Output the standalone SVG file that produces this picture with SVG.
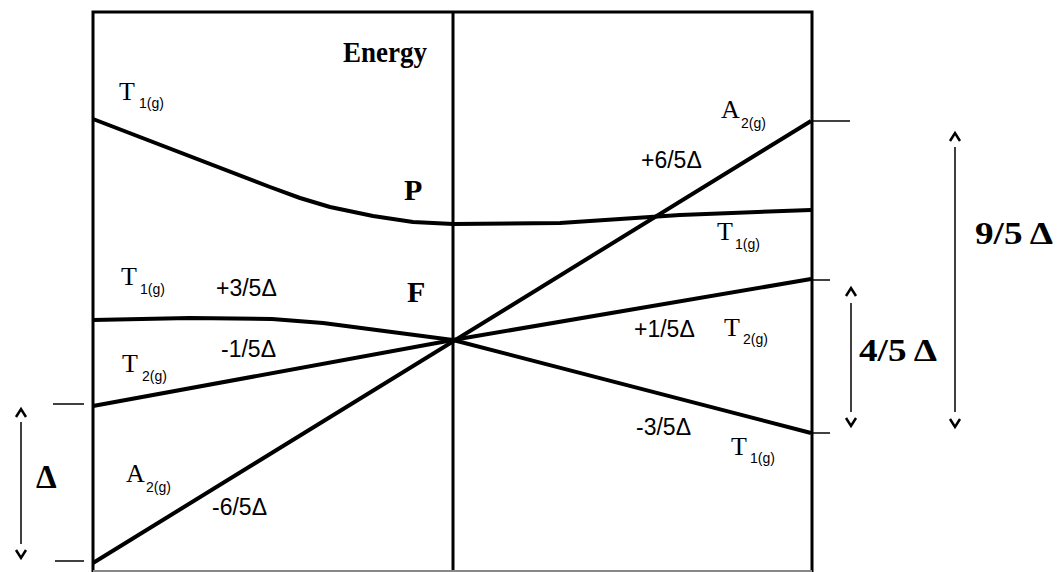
<svg xmlns="http://www.w3.org/2000/svg" width="1063" height="572" viewBox="0 0 1063 572">
<style>
.box{fill:none;stroke:#000;stroke-width:3}
.lvl{fill:none;stroke:#000;stroke-width:4;stroke-linejoin:round}
.tick{stroke:#000;stroke-width:1.5}
.arr{fill:none;stroke:#000;stroke-width:1.5}
.chev{fill:none;stroke:#000;stroke-width:2.5}
.bs{font-family:"Liberation Serif",serif;font-weight:bold;fill:#000}
.t{font-family:"Liberation Serif",serif;font-size:26px;fill:#000}
.sub{font-family:"Liberation Sans",sans-serif;font-size:14px;fill:#000}
.v{font-family:"Liberation Sans",sans-serif;font-size:23px;fill:#000}
</style>
<rect width="1063" height="572" fill="#fff"/>
<g id="frame">
<path class="box" d="M93,572 V12 H812 V572 M453,12 V572"/>
<line x1="93" y1="571" x2="812" y2="571" stroke="#888" stroke-width="2"/>
</g>
<g id="connectors">
<polyline id="p-t1g" class="lvl" points="93,119 270,187 300,198 330,207 373,216 413,222 453,224 560,223 680,215 811,210"/>
<path id="a2g" class="lvl" d="M93,563 L811,121"/>
<polyline id="f-t1g" class="lvl" points="93,320 190,318 272,319 323,323 453,340 811,433"/>
<path id="t2g" class="lvl" d="M93,406 L453,340 L811,279"/>
<line class="tick" x1="811" y1="121" x2="850" y2="121"/>
<line class="tick" x1="811" y1="280" x2="830" y2="280"/>
<line class="tick" x1="811" y1="433" x2="830" y2="433"/>
<line class="tick" x1="53" y1="404" x2="84" y2="404"/>
<line class="tick" x1="55" y1="561" x2="84" y2="561"/>
<line class="arr" x1="21" y1="422" x2="21" y2="544"/>
<polyline class="chev" points="16,417 21,409 26,417"/>
<polyline class="chev" points="16,550 21,558 26,550"/>
<line class="arr" x1="851" y1="303" x2="851" y2="412"/>
<polyline class="chev" points="846,296 851,288 856,296"/>
<polyline class="chev" points="846,418 851,426 856,418"/>
<line class="arr" x1="955" y1="147" x2="955" y2="412"/>
<polyline class="chev" points="950,141 955,133 960,141"/>
<polyline class="chev" points="950,419 955,427 960,419"/>
</g>
<g id="labels">
<text class="bs" x="343" y="62" font-size="29" textLength="84" lengthAdjust="spacingAndGlyphs">Energy</text>
<text class="bs" x="404" y="200" font-size="30">P</text>
<text class="bs" x="407" y="302" font-size="30">F</text>
<text class="bs" x="36" y="488" font-size="33">Δ</text>
<text class="bs" x="975" y="244" font-size="32" textLength="78" lengthAdjust="spacingAndGlyphs">9/5 Δ</text>
<text class="bs" x="859" y="361" font-size="32" textLength="78" lengthAdjust="spacingAndGlyphs">4/5 Δ</text>
</g>
<g id="t1g-top"><text class="t" x="119" y="100">T</text><text class="sub" x="139" y="108">1(g)</text></g>
<g id="t1g-f"><text class="t" x="121" y="285">T</text><text class="sub" x="140" y="294">1(g)</text></g>
<g id="t2g-left"><text class="t" x="122" y="372">T</text><text class="sub" x="142" y="381">2(g)</text></g>
<g id="a2g-left"><text class="t" x="126" y="482">A</text><text class="sub" x="146" y="492">2(g)</text></g>
<g id="a2g-right"><text class="t" x="721" y="118">A</text><text class="sub" x="741" y="128">2(g)</text></g>
<g id="t1g-right"><text class="t" x="717" y="240">T</text><text class="sub" x="735" y="249">1(g)</text></g>
<g id="t2g-right"><text class="t" x="724" y="336">T</text><text class="sub" x="743" y="344">2(g)</text></g>
<g id="t1g-bottom"><text class="t" x="731" y="455">T</text><text class="sub" x="750" y="463">1(g)</text></g>
<g id="values">
<text class="v" x="216" y="296">+3/5Δ</text>
<text class="v" x="221" y="357">-1/5Δ</text>
<text class="v" x="212" y="515">-6/5Δ</text>
<text class="v" x="641" y="168">+6/5Δ</text>
<text class="v" x="634" y="337">+1/5Δ</text>
<text class="v" x="636" y="435">-3/5Δ</text>
</g>
</svg>
